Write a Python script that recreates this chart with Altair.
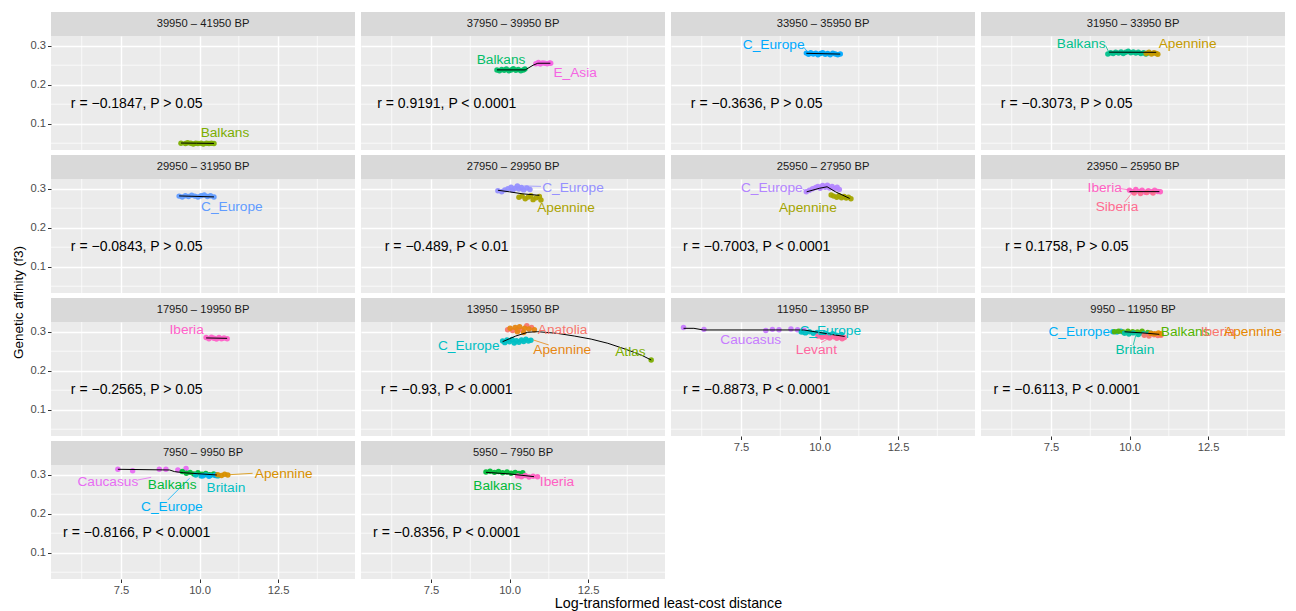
import altair as alt
import pandas as pd

FONT = "Liberation Sans"
W, H = 304, 114
X_DOMAIN = [5.271, 14.95]
Y_DOMAIN = [0.0326, 0.3249]
X_MAJOR = [7.5, 10.0, 12.5]
X_MINOR = [6.25, 8.75, 11.25, 13.75]
Y_MAJOR = [0.1, 0.2, 0.3]
Y_MINOR = [0.05, 0.15, 0.25]
ANNOT_X, ANNOT_Y = 8.0, 0.15

periods = [
    "39950 – 41950 BP", "37950 – 39950 BP", "33950 – 35950 BP", "31950 – 33950 BP",
    "29950 – 31950 BP", "27950 – 29950 BP", "25950 – 27950 BP", "23950 – 25950 BP",
    "17950 – 19950 BP", "13950 – 15950 BP", "11950 – 13950 BP", "9950 – 11950 BP",
    "7950 – 9950 BP", "5950 – 7950 BP",
]
r_texts = [
    "r = −0.1847, P > 0.05", "r = 0.9191, P < 0.0001", "r = −0.3636, P > 0.05",
    "r = −0.3073, P > 0.05", "r = −0.0843, P > 0.05", "r = −0.489, P < 0.01",
    "r = −0.7003, P < 0.0001", "r = 0.1758, P > 0.05", "r = −0.2565, P > 0.05",
    "r = −0.93, P < 0.0001", "r = −0.8873, P < 0.0001", "r = −0.6113, P < 0.0001",
    "r = −0.8166, P < 0.0001", "r = −0.8356, P < 0.0001",
]

# ---- panel 0: 39950 - 41950 BP
p00_points = {"Balkans": ([9.41, 9.55, 9.62, 9.72, 9.80, 9.88, 9.95, 10.05, 10.12, 10.22, 10.30, 10.38, 10.46],
                          [0.050, 0.049, 0.051, 0.050, 0.048, 0.050, 0.049, 0.050, 0.048, 0.050, 0.049, 0.050, 0.049])}
p00_line = ([9.41, 9.90, 10.46], [0.0505, 0.0500, 0.0495])
p00_labels = [("Balkans", 10.81, 0.076)]
p00_leaders = []

# ---- panel 1: 37950 - 39950 BP
p01_points = {"Balkans": ([9.60, 9.68, 9.75, 9.83, 9.90, 9.98, 10.05, 10.12, 10.20, 10.28, 10.36, 10.44, 10.49],
                          [0.238, 0.236, 0.239, 0.237, 0.240, 0.236, 0.238, 0.241, 0.237, 0.239, 0.236, 0.238, 0.240]),
              "E_Asia": ([10.84, 10.92, 10.98, 11.05, 11.12, 11.20, 11.28, 11.31],
                         [0.254, 0.257, 0.253, 0.256, 0.255, 0.254, 0.256, 0.255])}
p01_line = ([9.60, 10.50, 10.75, 10.90, 11.30], [0.238, 0.238, 0.250, 0.255, 0.255])
p01_labels = [("Balkans", 9.73, 0.2634), ("E_Asia", 12.09, 0.2308)]
p01_leaders = []

# ---- panel 2: 33950 - 35950 BP
p02_points = {"C_Europe": ([9.58, 9.65, 9.72, 9.80, 9.88, 9.95, 10.03, 10.10, 10.18, 10.26, 10.34, 10.42, 10.50, 10.58, 10.66],
                           [0.281, 0.278, 0.282, 0.279, 0.281, 0.277, 0.280, 0.282, 0.278, 0.280, 0.277, 0.281, 0.279, 0.277, 0.279])}
p02_line = ([9.58, 10.66], [0.2805, 0.2785])
p02_labels = [("C_Europe", 8.54, 0.3019)]
p02_leaders = [("C_Europe", 9.50, 0.296, 9.62, 0.284)]

# ---- panel 3: 31950 - 33950 BP
p03_points = {"Balkans": ([9.31, 9.40, 9.48, 9.56, 9.65, 9.73, 9.80, 9.88, 9.96, 10.04, 10.12, 10.20, 10.28, 10.36, 10.45, 10.52, 10.58],
                          [0.279, 0.282, 0.280, 0.283, 0.281, 0.284, 0.280, 0.283, 0.286, 0.282, 0.284, 0.281, 0.283, 0.280, 0.282, 0.279, 0.281]),
              "Apennine": ([10.53, 10.62, 10.70, 10.78, 10.85, 10.90],
                           [0.280, 0.283, 0.279, 0.282, 0.280, 0.278])}
p03_line = ([9.35, 10.85], [0.2835, 0.2830])
p03_labels = [("Balkans", 8.46, 0.3037), ("Apennine", 11.85, 0.3037)]
p03_leaders = [("Balkans", 9.24, 0.300, 9.33, 0.285)]

# ---- panel 4: 29950 - 31950 BP
p04_points = {"C_Europe": ([9.35, 9.45, 9.55, 9.65, 9.75, 9.85, 9.95, 10.05, 10.15, 10.25, 10.35, 10.46],
                           [0.281, 0.279, 0.282, 0.280, 0.283, 0.281, 0.279, 0.282, 0.284, 0.280, 0.282, 0.279])}
p04_line = ([9.35, 10.46], [0.2815, 0.2790])
p04_labels = [("C_Europe", 11.03, 0.2539)]
p04_leaders = []

# ---- panel 5: 27950 - 29950 BP
p05_points = {"C_Europe": ([9.63, 9.75, 9.85, 9.95, 10.05, 10.10, 10.18, 10.25, 10.30, 10.38, 10.45, 10.55, 10.65],
                           [0.295, 0.292, 0.297, 0.300, 0.304, 0.296, 0.301, 0.307, 0.299, 0.303, 0.297, 0.302, 0.298]),
              "Apennine": ([10.30, 10.40, 10.50, 10.60, 10.68, 10.75, 10.85, 10.95, 11.00],
                           [0.278, 0.281, 0.274, 0.279, 0.282, 0.272, 0.277, 0.280, 0.271])}
p05_line = ([9.63, 10.0, 10.4, 10.95], [0.296, 0.292, 0.287, 0.283])
p05_labels = [("C_Europe", 12.02, 0.301), ("Apennine", 11.80, 0.2498)]
p05_leaders = [("C_Europe", 10.45, 0.307, 11.0, 0.306)]

# ---- panel 6: 25950 - 27950 BP
p06_points = {"C_Europe": ([9.58, 9.68, 9.78, 9.88, 9.95, 10.02, 10.10, 10.18, 10.25, 10.32, 10.40, 10.48, 10.56, 10.63],
                           [0.292, 0.296, 0.300, 0.303, 0.306, 0.301, 0.308, 0.304, 0.309, 0.302, 0.306, 0.300, 0.304, 0.298]),
              "Apennine": ([10.37, 10.45, 10.55, 10.62, 10.70, 10.78, 10.85, 10.92, 11.00],
                           [0.284, 0.281, 0.278, 0.282, 0.277, 0.280, 0.276, 0.278, 0.274])}
p06_line = ([9.59, 9.99, 10.24, 10.51, 10.96], [0.292, 0.301, 0.305, 0.292, 0.275])
p06_labels = [("C_Europe", 8.48, 0.301), ("Apennine", 9.63, 0.2498)]
p06_leaders = [("C_Europe", 9.46, 0.299, 9.58, 0.294)]

# ---- panel 7: 23950 - 25950 BP
p07_points = {"Iberia": ([10.00, 10.10, 10.20, 10.30, 10.40, 10.50, 10.60, 10.70, 10.80, 10.90, 10.98],
                         [0.296, 0.292, 0.298, 0.293, 0.296, 0.291, 0.295, 0.292, 0.296, 0.293, 0.292]),
              "Siberia": ([10.15, 10.35, 10.55, 10.75], [0.289, 0.288, 0.290, 0.289])}
p07_line = ([10.0, 10.95], [0.2925, 0.2925])
p07_labels = [("Iberia", 9.21, 0.301), ("Siberia", 9.60, 0.2539)]
p07_leaders = [("Iberia", 9.72, 0.300, 10.0, 0.297), ("Siberia", 9.85, 0.266, 10.05, 0.286)]

# ---- panel 8: 17950 - 19950 BP
p08_points = {"Iberia": ([10.21, 10.30, 10.38, 10.46, 10.54, 10.62, 10.70, 10.78, 10.88],
                         [0.285, 0.282, 0.286, 0.283, 0.281, 0.285, 0.282, 0.284, 0.282])}
p08_line = ([10.21, 10.88], [0.284, 0.283])
p08_labels = [("Iberia", 9.59, 0.3044)]
p08_leaders = []

# ---- panel 9: 13950 - 15950 BP
p09_points = {"C_Europe": ([9.78, 9.85, 9.92, 10.00, 10.08, 10.15, 10.22, 10.30, 10.38, 10.45, 10.52, 10.60, 10.68],
                           [0.276, 0.272, 0.279, 0.274, 0.280, 0.271, 0.277, 0.273, 0.279, 0.275, 0.281, 0.276, 0.278]),
              "Anatolia": ([9.94, 10.10, 10.25, 10.40, 10.55, 10.70],
                           [0.305, 0.303, 0.306, 0.304, 0.315, 0.311]),
              "Apennine": ([10.02, 10.18, 10.32, 10.48, 10.62, 10.79, 10.25, 10.45],
                           [0.309, 0.311, 0.313, 0.309, 0.307, 0.305, 0.300, 0.298]),
              "Atlas": ([14.51], [0.2275])}
p09_line = ([9.78, 10.2, 10.58, 10.90, 11.5, 12.06, 12.6, 13.13, 13.7, 14.19, 14.51],
            [0.2744, 0.289, 0.2985, 0.300, 0.296, 0.289, 0.281, 0.2703, 0.255, 0.2403, 0.2275])
p09_labels = [("Anatolia", 11.69, 0.3044), ("Apennine", 11.68, 0.2531),
              ("C_Europe", 8.70, 0.2634), ("Atlas", 13.85, 0.2472)]
p09_leaders = [("Apennine", 10.75, 0.279, 11.25, 0.266)]

# ---- panel 10: 11950 - 13950 BP
p10_points = {"Caucasus": ([5.67, 6.32, 8.29, 8.50, 8.71, 9.09, 9.30, 9.51],
                           [0.311, 0.306, 0.303, 0.306, 0.305, 0.307, 0.305, 0.304]),
              "C_Europe": ([9.42, 9.55, 9.68, 9.80, 9.92, 10.05, 10.18, 10.30, 10.42, 10.55, 10.70],
                           [0.299, 0.297, 0.300, 0.296, 0.298, 0.294, 0.296, 0.292, 0.295, 0.291, 0.293]),
              "Levant": ([9.95, 10.08, 10.20, 10.32, 10.45, 10.55, 10.65, 10.72, 10.79],
                         [0.289, 0.286, 0.288, 0.284, 0.287, 0.283, 0.286, 0.282, 0.285])}
p10_line = ([5.67, 6.00, 6.30, 9.50, 10.00, 10.50, 10.80],
            [0.3087, 0.3087, 0.3045, 0.3045, 0.298, 0.2915, 0.2878])
p10_labels = [("Caucasus", 7.81, 0.2787), ("C_Europe", 10.34, 0.3018), ("Levant", 9.90, 0.2531)]
p10_leaders = [("Levant", 10.05, 0.272, 10.30, 0.283)]

# ---- panel 11: 9950 - 11950 BP
p11_points = {"C_Europe": ([9.47, 9.60, 9.72], [0.300, 0.299, 0.301]),
              "Balkans": ([9.52, 9.65, 9.80, 9.95, 10.10, 10.25, 10.40, 10.58],
                          [0.300, 0.301, 0.299, 0.301, 0.300, 0.299, 0.301, 0.298]),
              "Britain": ([9.84, 9.98, 10.12, 10.28, 10.45, 10.60, 10.68],
                          [0.296, 0.294, 0.297, 0.293, 0.295, 0.294, 0.296]),
              "Iberia": ([10.47, 10.62, 10.78, 10.90, 11.00], [0.291, 0.289, 0.292, 0.290, 0.291]),
              "Apennine": ([10.68, 10.80, 10.92, 11.00], [0.296, 0.295, 0.297, 0.295])}
p11_line = ([9.84, 10.40, 10.95], [0.2999, 0.297, 0.2933])
p11_labels = [("C_Europe", 8.40, 0.300), ("Balkans", 11.77, 0.300), ("Iberia", 12.81, 0.300),
              ("Apennine", 13.93, 0.300), ("Britain", 10.17, 0.2531)]
p11_leaders = [("Britain", 10.12, 0.266, 10.20, 0.291)]

# ---- panel 12: 7950 - 9950 BP
p12_points = {"Caucasus": ([7.40, 7.87, 8.72, 8.93, 9.31, 9.57], [0.314, 0.310, 0.314, 0.314, 0.312, 0.316]),
              "Balkans": ([9.45, 9.58, 9.70, 9.82, 9.95, 10.08, 10.20, 10.32, 10.45, 10.51],
                          [0.308, 0.304, 0.306, 0.302, 0.305, 0.301, 0.303, 0.300, 0.302, 0.299]),
              "Britain": ([9.88, 10.05, 10.20, 10.35, 10.50, 10.58], [0.299, 0.297, 0.300, 0.298, 0.299, 0.297]),
              "C_Europe": ([10.10, 10.30, 10.50], [0.297, 0.296, 0.298]),
              "Apennine": ([10.58, 10.70, 10.80, 10.90], [0.300, 0.298, 0.301, 0.299])}
p12_line = ([7.40, 9.05, 9.20, 9.50, 10.55], [0.3139, 0.3121, 0.308, 0.305, 0.2993])
p12_labels = [("Caucasus", 7.08, 0.282), ("Balkans", 9.13, 0.2736), ("Britain", 10.84, 0.2651),
              ("C_Europe", 9.12, 0.218), ("Apennine", 12.68, 0.301)]
p12_leaders = [("Caucasus", 8.03, 0.2864, 8.46, 0.2933), ("Apennine", 10.95, 0.300, 11.69, 0.3036),
               ("C_Europe", 8.99, 0.2352, 9.68, 0.2908)]

# ---- panel 13: 5950 - 7950 BP
p13_points = {"Balkans": ([9.25, 9.38, 9.52, 9.65, 9.78, 9.92, 10.05, 10.18, 10.30, 10.42],
                          [0.307, 0.309, 0.306, 0.308, 0.305, 0.307, 0.304, 0.306, 0.303, 0.305]),
              "Iberia": ([10.26, 10.38, 10.50, 10.62, 10.75, 10.89], [0.297, 0.295, 0.298, 0.294, 0.296, 0.295])}
p13_line = ([9.25, 10.0, 10.78], [0.3061, 0.302, 0.295])
p13_labels = [("Balkans", 9.62, 0.271), ("Iberia", 11.51, 0.2821)]
p13_leaders = []

panel_data = [
    (p00_points, p00_line, p00_labels, p00_leaders), (p01_points, p01_line, p01_labels, p01_leaders),
    (p02_points, p02_line, p02_labels, p02_leaders), (p03_points, p03_line, p03_labels, p03_leaders),
    (p04_points, p04_line, p04_labels, p04_leaders), (p05_points, p05_line, p05_labels, p05_leaders),
    (p06_points, p06_line, p06_labels, p06_leaders), (p07_points, p07_line, p07_labels, p07_leaders),
    (p08_points, p08_line, p08_labels, p08_leaders), (p09_points, p09_line, p09_labels, p09_leaders),
    (p10_points, p10_line, p10_labels, p10_leaders), (p11_points, p11_line, p11_labels, p11_leaders),
    (p12_points, p12_line, p12_labels, p12_leaders), (p13_points, p13_line, p13_labels, p13_leaders),
]

# ---- styles: region colours per panel
panel_colors = [
    {"Balkans": "#7CAE00"},
    {"Balkans": "#00BE67", "E_Asia": "#F564E3"},
    {"C_Europe": "#00A9FF"},
    {"Balkans": "#00C08B", "Apennine": "#C49A00"},
    {"C_Europe": "#619CFF"},
    {"C_Europe": "#9590FF", "Apennine": "#ABA300"},
    {"C_Europe": "#B385FF", "Apennine": "#A3A500"},
    {"Iberia": "#FF61C3", "Siberia": "#FF6C91"},
    {"Iberia": "#FF61C9"},
    {"C_Europe": "#00BFC4", "Anatolia": "#F8766D", "Apennine": "#E68613", "Atlas": "#7CAE00"},
    {"Caucasus": "#C77CFF", "C_Europe": "#00BFC4", "Levant": "#FF689F"},
    {"C_Europe": "#00B0F6", "Balkans": "#53B400", "Britain": "#00C1A3", "Iberia": "#F8766D", "Apennine": "#E58700"},
    {"Caucasus": "#E76BF3", "Balkans": "#00BA38", "Britain": "#00BFC4", "C_Europe": "#00B0F6", "Apennine": "#D89000"},
    {"Balkans": "#00BA38", "Iberia": "#FF61C3"},
]

# one shared colour scale (keys are unique per panel)
ALL_KEYS, ALL_COLS = [], []
for _i, _c in enumerate(panel_colors):
    for _r, _h in _c.items():
        ALL_KEYS.append(f"{_i}|{_r}")
        ALL_COLS.append(_h)
COLOR_SCALE = alt.Scale(domain=ALL_KEYS, range=ALL_COLS)


def make_panel(i):
    pts, line, labs, segs = panel_data[i]
    row, col = divmod(i, 4)
    bottom = i in (10, 11, 12, 13)
    left = col == 0

    x_kw = dict(values=X_MAJOR, format=".1f", labels=bottom, ticks=bottom, domain=False, grid=True, title=None)
    if i == 13:
        x_kw.update(title="Log-transformed least-cost distance", titleX=307, titleY=17, titleFontSize=14.3)
    y_kw = dict(values=Y_MAJOR, format=".1f", labels=left, ticks=left, domain=False, grid=True, title=None)
    if i == 8:
        y_kw.update(title="Genetic affinity (f3)", titleX=-33, titleY=-20, titleBaseline="middle",
                    titleAlign="center", titleFontSize=13.5)

    xs = alt.Scale(domain=X_DOMAIN, nice=False, zero=False)
    ys = alt.Scale(domain=Y_DOMAIN, nice=False, zero=False)
    X = alt.X("x:Q", scale=xs, axis=alt.Axis(**x_kw))
    Y = alt.Y("y:Q", scale=ys, axis=alt.Axis(**y_kw))
    C = alt.Color("key:N", scale=COLOR_SCALE, legend=None)

    rows = []
    for reg, (xv, yv) in pts.items():
        for a, b in zip(xv, yv):
            rows.append({"x": a, "y": b, "key": f"{i}|{reg}"})
    pdf = pd.DataFrame(rows)
    ldf = pd.DataFrame({"x": line[0], "y": line[1]})
    labdf = pd.DataFrame([{"label": n, "x": a, "y": b, "key": f"{i}|{n}"} for n, a, b in labs])

    layers = [
        alt.Chart(pd.DataFrame({"x": X_MINOR})).mark_rule(color="white", strokeWidth=0.7).encode(x=X),
        alt.Chart(pd.DataFrame({"y": Y_MINOR})).mark_rule(color="white", strokeWidth=0.7).encode(y=Y),
    ]
    if segs:
        sdf = pd.DataFrame([{"x": a, "y": b, "x2": c, "y2": d, "key": f"{i}|{n}"} for n, a, b, c, d in segs])
        layers.append(alt.Chart(sdf).mark_rule(strokeWidth=0.8).encode(
            x=X, y=Y, x2="x2:Q", y2="y2:Q", color=C))
    layers += [
        alt.Chart(pdf).mark_circle(size=30, opacity=0.95).encode(x=X, y=Y, color=C),
        alt.Chart(ldf).mark_line(color="black", strokeWidth=1.0).encode(x=X, y=Y),
        alt.Chart(labdf).mark_text(font=FONT, fontSize=13.7).encode(x=X, y=Y, text="label:N", color=C),
        alt.Chart(pd.DataFrame({"x": [ANNOT_X], "y": [ANNOT_Y], "t": [r_texts[i]]})).mark_text(
            font=FONT, fontSize=14, color="black").encode(x=X, y=Y, text="t:N"),
        alt.Chart(pd.DataFrame({"period": [periods[i]]})).mark_rect(color="#D9D9D9").encode(
            x=alt.value(0), x2=alt.value(W), y=alt.value(-24), y2=alt.value(0)),
        alt.Chart(pd.DataFrame({"period": [periods[i]]})).mark_text(
            font=FONT, fontSize=11.2, color="#1A1A1A", baseline="middle").encode(
            x=alt.value(W / 2), y=alt.value(-12), text="period:N"),
    ]
    return alt.layer(*layers).properties(width=W, height=H)


panels = [make_panel(i) for i in range(len(periods))]

chart = alt.concat(*panels, columns=4, spacing={"row": 29, "column": 6}, bounds="flush").properties(
    padding={"left": 2, "top": 4, "right": 2, "bottom": 2}
).configure_view(fill="#EBEBEB", stroke=None).configure_axis(
    gridColor="white", gridWidth=1.4, tickColor="#333333", tickSize=3.5, tickWidth=1,
    labelColor="#4D4D4D", labelFont=FONT, labelFontSize=11.2, labelPadding=2,
    titleFont=FONT, titleFontSize=14, titleColor="black", titleFontWeight="normal",
)

chart.save("out.html", embed_options={"renderer": "svg", "actions": False})
